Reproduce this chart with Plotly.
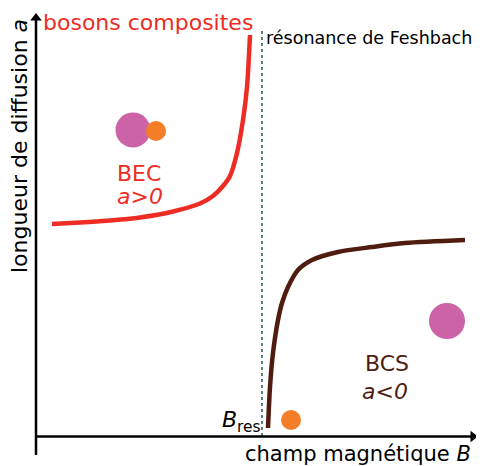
import plotly.graph_objects as go

# ── palette ───────────────────────────────────────────────
RED = "#ee2c24"
BROWN = "#4f1c0f"
PURPLE = "#cc63a6"
ORANGE = "#f47d28"
DOT_GREEN = "#1f5e4a"
FONT = "DejaVu Sans"

# ── data (figure units ≈ pixels, y grows downward) ────────
bec_x = [52, 80, 107, 140, 173, 200, 213, 223, 230, 237, 243, 247, 250]
bec_y = [224, 222.5, 220.7, 217.5, 211.5, 203.5, 196, 186, 176, 153, 120, 87, 35]

bcs_x = [268, 270, 273, 278, 282, 288, 298, 312, 338, 372, 405, 465]
bcs_y = [428, 387, 353, 320, 303, 287, 270, 260, 252, 247, 243, 240]

b_res = 262
res_top = 31

# atoms: centres, diameters, colours
atoms_x = [133, 156, 447, 291]
atoms_y = [130, 131, 321, 420]
atoms_d = [35, 20, 36, 20]
atoms_c = [PURPLE, ORANGE, PURPLE, ORANGE]

# page body has an 8px margin, shift the view to compensate
OFF = 8

fig = go.Figure()

fig.add_trace(go.Scatter(
    x=bec_x, y=bec_y, mode="lines",
    line=dict(color=RED, width=4.5, shape="spline", smoothing=0.8),
))
fig.add_trace(go.Scatter(
    x=bcs_x, y=bcs_y, mode="lines",
    line=dict(color=BROWN, width=4.5, shape="spline", smoothing=0.8),
))
fig.add_trace(go.Scatter(
    x=[b_res, b_res], y=[res_top, 436], mode="lines",
    line=dict(color=DOT_GREEN, width=1.5, dash="dot"),
))
fig.add_trace(go.Scatter(
    x=atoms_x, y=atoms_y, mode="markers",
    marker=dict(size=atoms_d, color=atoms_c, line=dict(width=0), opacity=1),
))

# ── axes with arrows ──────────────────────────────────────
fig.add_trace(go.Scatter(
    x=[36, 36], y=[455, 20], mode="lines", line=dict(color="black", width=2.5),
))
fig.add_trace(go.Scatter(
    x=[36, 472], y=[436.5, 436.5], mode="lines", line=dict(color="black", width=2.5),
))
fig.add_trace(go.Scatter(
    x=[36, 473], y=[18, 436.5], mode="markers",
    marker=dict(symbol=["triangle-up", "triangle-right"], size=10, color="black",
                line=dict(width=0)),
))

# ── labels ────────────────────────────────────────────────
def label(x, y, text, color="black", size=22, xanchor="center", textangle=0):
    fig.add_annotation(x=x, y=y, text=text, showarrow=False, xref="x", yref="y",
                       xanchor=xanchor, yanchor="middle", textangle=textangle,
                       font=dict(family=FONT, size=size, color=color))

label(41, 22, "bosons composites", RED, 22, "left")
label(264, 38, "résonance de Feshbach", "black", 17.5, "left")
label(139, 173, "BEC", RED, 22)
label(140, 196, "<i>a&gt;0</i>", RED, 22)
label(387, 363, "BCS", BROWN, 22)
label(385, 391, "<i>a&lt;0</i>", BROWN, 22)
label(220, 421, "<i>B</i><sub>res</sub>", "black", 22, "left")
label(243, 454, "champ magnétique <i>B</i>", "black", 21, "left")
label(19, 146, "longueur de diffusion <i>a</i>", "black", 22, textangle=-90)

fig.update_layout(
    width=484, height=466,
    margin=dict(l=0, r=0, t=0, b=0),
    paper_bgcolor="white", plot_bgcolor="white",
    showlegend=False,
    xaxis=dict(range=[OFF, 484 + OFF], visible=False, fixedrange=True),
    yaxis=dict(range=[466 + OFF, OFF], visible=False, fixedrange=True),
)

fig.write_html("out.html")
